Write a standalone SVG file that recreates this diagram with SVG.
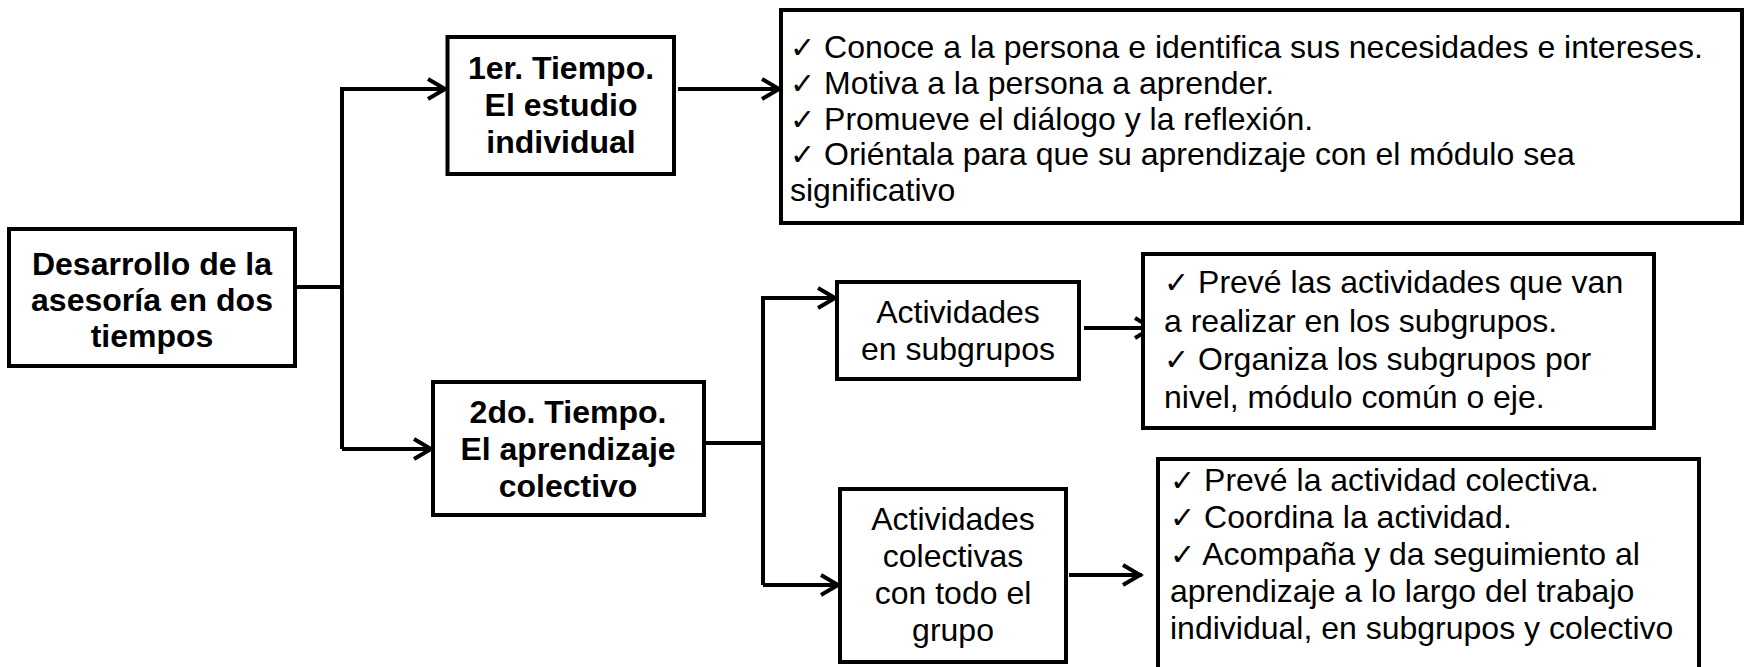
<svg xmlns="http://www.w3.org/2000/svg" width="1745" height="667" viewBox="0 0 1745 667">
<style>
.box{fill:#fff;stroke:#000;stroke-width:4}
.b{font-family:"Liberation Sans",Arial,sans-serif;font-size:32px;font-weight:bold;text-anchor:middle;fill:#000}
.r{font-family:"Liberation Sans",Arial,sans-serif;font-size:32px;fill:#000}
.c{text-anchor:middle}
.ck{font-family:"DejaVu Sans",sans-serif;font-size:30px}
.ln{fill:none;stroke:#000;stroke-width:4}
</style>
<defs>
<marker id="arr" markerUnits="userSpaceOnUse" viewBox="-24 -14 28 28" refX="0" refY="0" markerWidth="28" markerHeight="28" orient="auto">
<path d="M-19,-10 L-2,0 L-19,10" fill="none" stroke="#000" stroke-width="4"/>
</marker>
</defs>
<rect width="1745" height="667" fill="#fff"/>
<g id="connectors">
<path class="ln" d="M295,287 H342"/>
<path class="ln" d="M342,449 V89 H447" marker-end="url(#arr)"/>
<path class="ln" d="M342,449 H433" marker-end="url(#arr)"/>
<path class="ln" d="M678,89 H781" marker-end="url(#arr)"/>
<path class="ln" d="M704,443 H763"/>
<path class="ln" d="M763,585 V298 H837" marker-end="url(#arr)"/>
<path class="ln" d="M763,585 H840" marker-end="url(#arr)"/>
<path class="ln" d="M1084,328 H1154" marker-end="url(#arr)"/>
<path class="ln" d="M1069,575 H1142" marker-end="url(#arr)"/>
</g>
<g id="n-desarrollo">
<rect class="box" x="9" y="229" width="286" height="137"/>
<text class="b" x="152" y="275">Desarrollo de la</text>
<text class="b" x="152" y="311">asesoría en dos</text>
<text class="b" x="152" y="347">tiempos</text>
</g>
<g id="n-tiempo1">
<rect class="box" x="447.5" y="37" width="226.5" height="137"/>
<text class="b" x="561" y="79">1er. Tiempo.</text>
<text class="b" x="561" y="116">El estudio</text>
<text class="b" x="561" y="153">individual</text>
</g>
<g id="n-tiempo2">
<rect class="box" x="433" y="382" width="271" height="133"/>
<text class="b" x="568" y="423">2do. Tiempo.</text>
<text class="b" x="568" y="460">El aprendizaje</text>
<text class="b" x="568" y="497">colectivo</text>
</g>
<g id="n-individual-list">
<rect class="box" x="781" y="10" width="961" height="213"/>
<text class="r" x="790" y="58"><tspan class="ck">✓</tspan> Conoce a la persona e identifica sus necesidades e intereses.</text>
<text class="r" x="790" y="94"><tspan class="ck">✓</tspan> Motiva a la persona a aprender.</text>
<text class="r" x="790" y="130"><tspan class="ck">✓</tspan> Promueve el diálogo y la reflexión.</text>
<text class="r" x="790" y="165"><tspan class="ck">✓</tspan> Oriéntala para que su aprendizaje con el módulo sea</text>
<text class="r" x="790" y="201">significativo</text>
</g>
<g id="n-subgrupos">
<rect class="box" x="837" y="282" width="242" height="97"/>
<text class="r c" x="958" y="323">Actividades</text>
<text class="r c" x="958" y="360">en subgrupos</text>
</g>
<g id="n-subgrupos-list">
<rect class="box" x="1143" y="254" width="511" height="174"/>
<text class="r" x="1164" y="293"><tspan class="ck">✓</tspan> Prevé las actividades que van</text>
<text class="r" x="1164" y="332">a realizar en los subgrupos.</text>
<text class="r" x="1164" y="370"><tspan class="ck">✓</tspan> Organiza los subgrupos por</text>
<text class="r" x="1164" y="408">nivel, módulo común o eje.</text>
</g>
<g id="n-colectivas">
<rect class="box" x="840" y="489" width="226" height="173"/>
<text class="r c" x="953" y="530">Actividades</text>
<text class="r c" x="953" y="567">colectivas</text>
<text class="r c" x="953" y="604">con todo el</text>
<text class="r c" x="953" y="641">grupo</text>
</g>
<g id="n-colectivas-list">
<rect class="box" x="1158" y="459" width="541" height="220"/>
<text class="r" x="1170" y="491"><tspan class="ck">✓</tspan> Prevé la actividad colectiva.</text>
<text class="r" x="1170" y="528"><tspan class="ck">✓</tspan> Coordina la actividad.</text>
<text class="r" x="1170" y="565"><tspan class="ck">✓</tspan> Acompaña y da seguimiento al</text>
<text class="r" x="1170" y="602">aprendizaje a lo largo del trabajo</text>
<text class="r" x="1170" y="639">individual, en subgrupos y colectivo</text>
</g>
</svg>
